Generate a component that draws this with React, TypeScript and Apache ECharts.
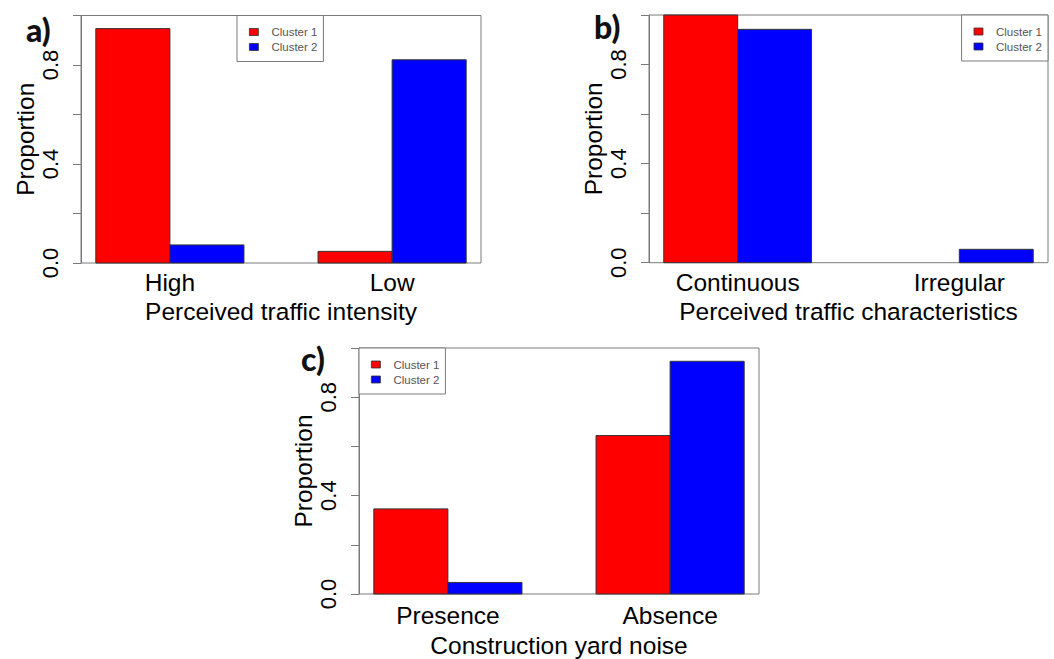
import React, { useEffect, useRef } from "react";
import * as echarts from "echarts";

// ---- data ----
const seriesNames = ["Cluster 1", "Cluster 2"];
const colors = ["#FF0000", "#0000FF"];

const catsA = ["High", "Low"];
const cluster1A = [0.947, 0.047];
const cluster2A = [0.073, 0.821];

const catsB = ["Continuous", "Irregular"];
const cluster1B = [1.0, 0.0];
const cluster2B = [0.942, 0.054];

const catsC = ["Presence", "Absence"];
const cluster1C = [0.346, 0.644];
const cluster2C = [0.047, 0.946];

const yTickLabels = [0, 0.4, 0.8];

const titlesX = [
  "Perceived traffic intensity",
  "Perceived traffic characteristics",
  "Construction yard noise",
];
const panelLabels = ["a)", "b)", "c)"];

const FONT = "'Liberation Sans', Arial, sans-serif";
const BOX = "#7a7a7a";

// R barplot(beside=TRUE) layout: bar j of group g spans [1+3g+j, 2+3g+j]
const groupCenter = (g: number) => 2 + 3 * g;

function App() {
  const ref = useRef<HTMLDivElement>(null);

  useEffect(() => {
    if (!ref.current) return;
    const chart = echarts.init(ref.current, null, { renderer: "svg" });

    const panels = [
      { cats: catsA, vals: [cluster1A, cluster2A], grid: { left: 81, top: 15.5, width: 400, height: 247.5 }, lm: 7, ng: 36 },
      { cats: catsB, vals: [cluster1B, cluster2B], grid: { left: 649, top: 15, width: 399, height: 247.7 }, lm: 7, ng: 36 },
      { cats: catsC, vals: [cluster1C, cluster2C], grid: { left: 359, top: 348, width: 400, height: 248 }, lm: 9, ng: 39 },
    ];

    const grids = panels.map((p) => ({
      ...p.grid,
      show: true,
      borderColor: BOX,
      borderWidth: 1,
      backgroundColor: "transparent",
      containLabel: false,
    }));

    const xAxes = panels.map((p, i) => ({
      type: "value",
      gridIndex: i,
      min: 0.8,
      max: 6.2,
      axisLine: { show: false },
      axisTick: { show: false },
      splitLine: { show: false },
      axisLabel: {
        customValues: p.cats.map((_, g) => groupCenter(g)),
        margin: p.lm,
        fontSize: 24.5,
        fontFamily: FONT,
        color: "#000",
        formatter: (v: number) => {
          const g = (v - 2) / 3;
          const r = Math.round(g);
          return Math.abs(g - r) < 1e-6 && r >= 0 && r < p.cats.length ? p.cats[r] : "";
        },
      },
      name: titlesX[i],
      nameLocation: "middle",
      nameGap: p.ng,
      nameTextStyle: { fontSize: 24.5, fontFamily: FONT, color: "#000" },
    }));

    const yAxes = panels.map((p, i) => ({
      type: "value",
      gridIndex: i,
      min: 0,
      max: 1,
      interval: 0.2,
      axisLine: { show: true, lineStyle: { color: BOX, width: 1 } },
      axisTick: { show: true, length: 8, lineStyle: { color: BOX, width: 1 } },
      splitLine: { show: false },
      axisLabel: {
        rotate: 90,
        margin: 20,
        fontSize: 22,
        fontFamily: FONT,
        color: "#000",
        formatter: (v: number) =>
          yTickLabels.some((t) => Math.abs(t - v) < 1e-6) ? v.toFixed(1) : "",
      },
      name: "Proportion",
      nameLocation: "middle",
      nameRotate: 90,
      nameGap: 43,
      nameTextStyle: { fontSize: 24.5, fontFamily: FONT, color: "#000" },
    }));

    const series: any[] = [];
    panels.forEach((p, i) => {
      p.vals.forEach((vals, j) => {
        series.push({
          type: "custom",
          name: seriesNames[j],
          xAxisIndex: i,
          yAxisIndex: i,
          itemStyle: { color: colors[j], borderColor: "#333", borderWidth: 1 },
          data: vals.map((v, g) => [g, v]),
          renderItem: (params: any, api: any) => {
            const g = api.value(0);
            const v = api.value(1);
            if (!(v > 0)) return null;
            const l = 1 + 3 * g + j;
            const p0 = api.coord([l, 0]);
            const p1 = api.coord([l + 1, v]);
            return {
              type: "rect",
              shape: { x: p0[0], y: p1[1], width: p1[0] - p0[0], height: p0[1] - p1[1] },
              style: { fill: colors[j], stroke: "#333", lineWidth: 1 },
            };
          },
        });
      });
    });

    const legendBase = {
      orient: "vertical",
      data: seriesNames,
      selectedMode: false,
      icon: "rect",
      itemWidth: 9,
      itemHeight: 7,
      itemGap: 2,
      padding: [10, 6, 8, 12],
      borderColor: BOX,
      borderWidth: 1,
      backgroundColor: "#fff",
      itemStyle: { borderColor: "#333", borderWidth: 0.8 },
      textStyle: {
        fontSize: 11.5,
        fontFamily: FONT,
        color: "#555",
        lineHeight: 13,
        padding: [0, 0, 0, 8],
      },
    };

    const legends = [
      { ...legendBase, left: 237, top: 15.5 },
      { ...legendBase, right: 6, top: 15 },
      { ...legendBase, left: 359, top: 348 },
    ];

    const labelPos = [
      [26, 29],
      [594, 26],
      [301, 358],
    ];

    chart.setOption({
      animation: false,
      backgroundColor: "#fff",
      grid: grids,
      xAxis: xAxes,
      yAxis: yAxes,
      legend: legends,
      series,
      graphic: panelLabels.map((t, i) => ({
        type: "text",
        x: labelPos[i][0],
        y: labelPos[i][1],
        z: 100,
        style: {
          text: t,
          fontFamily: "Lato, 'Open Sans', sans-serif",
          fontWeight: 900,
          fontSize: 32,
          fill: "#111",
          align: "left",
          verticalAlign: "middle",
        },
      })),
    });

    return () => chart.dispose();
  }, []);

  return (
    <div
      ref={ref}
      style={{ position: "fixed", left: 0, top: 0, width: 1054, height: 659, background: "#fff" }}
    />
  );
}

export default App;
